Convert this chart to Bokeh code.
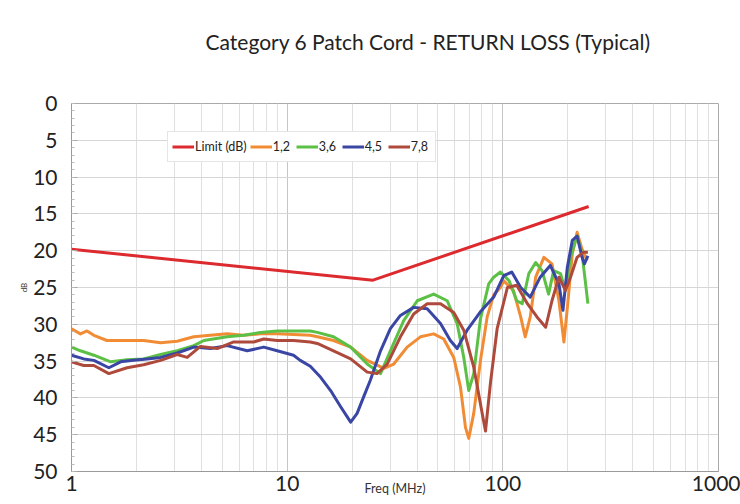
from bokeh.plotting import figure
from bokeh.models import Range1d, FixedTicker, NumeralTickFormatter, Title
from bokeh.embed import file_html
from bokeh.resources import INLINE

TITLE = "Category 6 Patch Cord - RETURN LOSS (Typical)"
X_LABEL = "Freq (MHz)"
Y_LABEL = "dB"

x_ticks = [1, 10, 100, 1000]
x_minor = [2, 3, 4, 5, 6, 7, 8, 9, 20, 30, 40, 50, 60, 70, 80, 90,
           200, 300, 400, 500, 600, 700, 800, 900]
y_ticks = [0, 5, 10, 15, 20, 25, 30, 35, 40, 45, 50]
y_minor = list(range(0, 51))

limit_freq = [1, 25, 250]
limit_db = [19.8, 24.0, 14.0]

p12_freq = [1.0, 1.10, 1.18, 1.27, 1.46, 1.81, 2.16, 2.59, 3.09, 3.69, 4.41, 5.27, 6.29,
            7.52, 8.99, 10.7, 12.8, 13.8, 16.4, 19.7, 23.5, 28.1, 31.2, 36.0, 41.5, 47.8,
            53.2, 59.2, 63.6, 67.1, 69.5, 73.3, 78.7, 84.6, 90.7, 97.5, 101, 112, 121,
            127, 134, 142, 155, 169, 182, 192, 200, 210, 221, 233, 246]
p12_db = [30.6, 31.3, 30.9, 31.5, 32.2, 32.2, 32.2, 32.5, 32.3, 31.7, 31.5, 31.3, 31.5,
          31.3, 31.3, 31.4, 31.5, 31.7, 32.2, 33.1, 34.9, 36.0, 35.4, 33.1, 31.7, 31.3,
          32.0, 34.5, 38.5, 44.0, 45.5, 42.1, 35.0, 29.0, 26.0, 25.0, 24.1, 25.4, 29.0,
          31.7, 29.0, 23.6, 20.9, 21.8, 26.8, 32.4, 27.2, 20.4, 17.5, 19.8, 21.3]

p36_freq = [1.0, 1.10, 1.27, 1.52, 1.81, 2.16, 2.59, 3.09, 3.69, 4.11, 5.27, 6.29, 7.52,
            8.99, 10.7, 12.8, 13.8, 16.4, 19.7, 23.5, 27.1, 30.1, 34.7, 40.1, 47.8, 55.2,
            61.4, 65.9, 69.5, 73.3, 78.7, 86.0, 90.7, 97.5, 107, 116, 123, 132, 142, 152,
            163, 172, 185, 195, 206, 221, 233, 242, 248]
p36_db = [33.1, 33.6, 34.2, 35.1, 34.8, 34.7, 34.1, 33.6, 32.9, 32.2, 31.7, 31.5, 31.1,
          30.9, 30.9, 30.9, 31.1, 31.7, 33.1, 35.4, 36.7, 33.6, 29.5, 26.8, 25.9, 26.8,
          29.9, 34.5, 39.0, 36.7, 29.3, 24.5, 23.6, 22.9, 24.1, 26.8, 27.2, 23.1, 21.6, 22.7,
          25.9, 22.7, 23.1, 25.4, 20.9, 18.0, 20.4, 24.5, 27.2]

p45_freq = [1.0, 1.14, 1.27, 1.49, 1.69, 1.94, 2.24, 2.59, 3.09, 3.69, 4.41, 5.27, 6.53,
            7.79, 8.99, 10.7, 11.5, 12.8, 14.3, 15.9, 17.7, 19.7, 21.1, 22.6, 24.3, 27.1,
            30.1, 33.5, 38.6, 44.6, 51.4, 57.1, 61.4, 68.3, 78.7, 90.7, 101, 110, 121, 134,
            149, 166, 182, 190, 199, 210, 221, 233, 239, 248]
p45_db = [34.2, 34.7, 34.9, 35.9, 35.1, 34.9, 34.7, 34.5, 33.9, 33.1, 33.3, 32.9, 33.6,
          33.1, 33.6, 34.2, 34.9, 35.7, 37.2, 39.0, 41.2, 43.3, 42.1, 39.9, 37.6, 33.6,
          30.6, 28.8, 27.7, 27.9, 29.9, 32.2, 33.3, 30.8, 28.3, 26.3, 23.4, 22.9, 25.0, 26.3,
          23.6, 22.0, 24.5, 28.1, 22.3, 18.6, 18.0, 20.9, 21.8, 20.7]

p78_freq = [1.0, 1.14, 1.27, 1.49, 1.81, 2.16, 2.59, 3.09, 3.44, 3.96, 4.74, 5.65, 7.00,
            7.79, 8.99, 10.7, 12.8, 13.8, 16.4, 19.7, 23.5, 26.1, 29.1, 33.5, 38.6, 44.6,
            51.4, 59.2, 65.9, 73.3, 80.2, 83.1, 87.6, 94.1, 105, 116, 130, 144, 158, 169,
            182, 195, 206, 221, 237, 248]
p78_db = [35.1, 35.6, 35.6, 36.7, 35.9, 35.5, 34.9, 34.1, 34.5, 33.0, 33.3, 32.4, 32.4,
          32.0, 32.2, 32.2, 32.4, 32.6, 33.6, 34.7, 36.5, 36.7, 35.4, 31.7, 28.6, 27.2,
          27.2, 28.4, 30.8, 35.8, 42.1, 44.5, 38.0, 30.6, 25.0, 24.7, 27.2, 29.0, 30.4, 26.8,
          23.6, 25.4, 23.6, 20.9, 20.2, 20.2]

series = [
    ("Limit (dB)", limit_freq, limit_db, "#dc2a2f"),
    ("1,2", p12_freq, p12_db, "#f28c34"),
    ("3,6", p36_freq, p36_db, "#5cc046"),
    ("4,5", p45_freq, p45_db, "#3a46a4"),
    ("7,8", p78_freq, p78_db, "#ae4a3c"),
]

FONT = "Lato"

p = figure(width=740, height=504, x_axis_type="log",
           x_range=Range1d(1, 1000), y_range=Range1d(50, 0),
           output_backend="svg", toolbar_location=None, title=None,
           min_border_left=71, min_border_right=22, min_border_top=103, min_border_bottom=33,
           background_fill_color="white", border_fill_color="white")

# spacer panel directly above the frame, then the real title above it
spacer = Title(text=" ", text_font_size="10px", standoff=36)
p.add_layout(spacer, "above")
main_title = Title(text=TITLE, align="left", offset=134, standoff=2,
                   text_font=FONT, text_font_size="21px", text_font_style="normal",
                   text_color="#222222")
p.add_layout(main_title, "above")

for name, fx, fy, col in series:
    p.line(fx, fy, line_width=3, color=col, legend_label=name, line_join="round")

p.xaxis.ticker = FixedTicker(ticks=x_ticks, minor_ticks=x_minor)
p.xaxis.formatter = NumeralTickFormatter(format="0")
p.yaxis.ticker = FixedTicker(ticks=y_ticks, minor_ticks=y_minor)

for ax in (p.xaxis[0], p.yaxis[0]):
    ax.axis_line_color = "#999999"
    ax.major_label_text_font = FONT
    ax.major_label_text_font_size = "21px"
    ax.major_label_text_color = "#222222"
    ax.major_tick_out = 0
    ax.minor_tick_out = 0

p.xaxis.major_tick_in = 0
p.xaxis.minor_tick_in = 0
p.xaxis.major_label_standoff = 4
p.xaxis.axis_label = X_LABEL
p.xaxis.axis_label_text_font = FONT
p.xaxis.axis_label_text_font_size = "12.5px"
p.xaxis.axis_label_text_font_style = "normal"
p.xaxis.axis_label_text_color = "#333333"
p.xaxis.axis_label_standoff = -13

p.yaxis.major_tick_in = 6
p.yaxis.minor_tick_in = 3
p.yaxis.major_tick_line_color = "#aaaaaa"
p.yaxis.minor_tick_line_color = "#bbbbbb"
p.yaxis.major_label_standoff = 14
p.yaxis.axis_label = Y_LABEL
p.yaxis.axis_label_text_font = FONT
p.yaxis.axis_label_text_font_size = "8px"
p.yaxis.axis_label_text_font_style = "normal"
p.yaxis.axis_label_text_color = "#333333"
p.yaxis.axis_label_standoff = 1

p.xgrid.grid_line_color = "#c6c6c6"
p.xgrid.minor_grid_line_color = "#e0e0e0"
p.ygrid.grid_line_color = "#d6d6d6"
p.outline_line_color = "#aaaaaa"

lg = p.legend[0]
lg.orientation = "horizontal"
lg.location = (96, 309)
lg.label_text_font = FONT
lg.label_text_font_size = "12.5px"
lg.label_text_color = "#222222"
lg.glyph_width = 22
lg.glyph_height = 21
lg.label_standoff = 1
lg.spacing = 3
lg.padding = 4
lg.margin = 0
lg.label_height = 21
lg.border_line_color = "#cccccc"
lg.background_fill_color = "white"
lg.background_fill_alpha = 1

open("out.html", "w").write(file_html(p, INLINE))
